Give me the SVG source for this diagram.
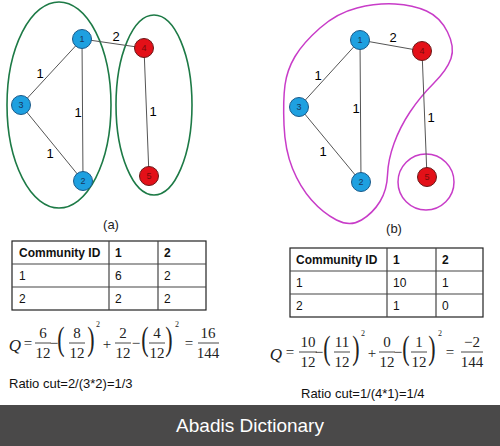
<svg xmlns="http://www.w3.org/2000/svg" width="500" height="446" viewBox="0 0 500 446">
<style>
.edge{stroke:#555;stroke-width:1;fill:none}
.bn{fill:#1ea0e0;stroke:#1a5a8a;stroke-width:1}
.rn{fill:#e31018;stroke:#6a1818;stroke-width:1}
.nt{font-family:"Liberation Sans",Arial,sans-serif;font-size:9px;text-anchor:middle}
.bt{fill:#17375e}
.rt{fill:#7a0a0a}
.el{font-family:"Liberation Sans",Arial,sans-serif;font-size:13px;fill:#000;text-anchor:middle}
.cap{font-family:"Liberation Sans",Arial,sans-serif;font-size:13px;fill:#222;text-anchor:middle}
.green{fill:none;stroke:#1d7a46;stroke-width:1.6}
.mag{fill:none;stroke:#c83cc8;stroke-width:1.5}
.tb{fill:none;stroke:#222;stroke-width:1.2}
.tl{stroke:#444;stroke-width:1.2}
.tt{font-family:"Liberation Sans",Arial,sans-serif;font-size:12px;fill:#111}
.tth{font-weight:bold}
.f{font-family:"Liberation Serif","Times New Roman",serif;font-size:15px;fill:#222;text-anchor:middle}
.fq{font-style:italic;font-size:17px}
.fe{font-size:8px}
.fp{font-size:22px}
.bar{stroke:#333;stroke-width:0.9}
.rc{font-family:"Liberation Sans",Arial,sans-serif;font-size:13px;fill:#111}
</style>

<!-- Graph (a) -->
<g id="groups-a">
  <ellipse class="green" cx="59" cy="105" rx="52" ry="103"/>
  <ellipse class="green" cx="154" cy="105" rx="38" ry="90"/>
</g>
<g id="edges-a">
  <line class="edge" x1="82" y1="39" x2="21" y2="105"/>
  <line class="edge" x1="82" y1="39" x2="83" y2="181"/>
  <line class="edge" x1="21" y1="105" x2="83" y2="181"/>
  <line class="edge" x1="82" y1="39" x2="144" y2="48"/>
  <line class="edge" x1="144" y1="48" x2="149" y2="176"/>
  <text class="el" x="116" y="41">2</text>
  <text class="el" x="40" y="78">1</text>
  <text class="el" x="78" y="117">1</text>
  <text class="el" x="50" y="158">1</text>
  <text class="el" x="153" y="116">1</text>
</g>
<g id="a-node1"><circle class="bn" cx="82" cy="39" r="9.5"/><text class="nt bt" x="82" y="42">1</text></g>
<g id="a-node2"><circle class="bn" cx="83" cy="181" r="9.5"/><text class="nt bt" x="83" y="184">2</text></g>
<g id="a-node3"><circle class="bn" cx="21" cy="105" r="9.5"/><text class="nt bt" x="21" y="108">3</text></g>
<g id="a-node4"><circle class="rn" cx="144" cy="48" r="9.5"/><text class="nt rt" x="144" y="51">4</text></g>
<g id="a-node5"><circle class="rn" cx="149" cy="176" r="9.5"/><text class="nt rt" x="149" y="179">5</text></g>
<text class="cap" x="111" y="229">(a)</text>

<!-- Graph (b) -->
<g id="groups-b">
  <path class="mag" d="M357,8 Q377,3 395,4 Q413,5 426.5,11 Q440,17 447.5,32 Q455,47 451,58.5 Q447,70 433.5,83.5 Q420,97 410,112 Q400,127 394,143.5 Q388,160 387.5,175 Q387,190 380,201.5 Q373,213 361.5,220 Q350,227 336.5,220 Q323,213 311.5,200 Q300,187 292.5,168.5 Q285,150 284,125 Q283,100 285,85 Q287,70 295,56.5 Q303,43 320,28 Q337,13 357,8 Z"/>
  <circle class="mag" cx="426" cy="182" r="28"/>
</g>
<g id="edges-b">
  <line class="edge" x1="360" y1="40" x2="299" y2="107"/>
  <line class="edge" x1="360" y1="40" x2="361" y2="182"/>
  <line class="edge" x1="299" y1="107" x2="361" y2="182"/>
  <line class="edge" x1="360" y1="40" x2="422" y2="51"/>
  <line class="edge" x1="422" y1="51" x2="427" y2="177"/>
  <text class="el" x="393" y="42">2</text>
  <text class="el" x="318" y="80">1</text>
  <text class="el" x="356" y="113">1</text>
  <text class="el" x="323" y="156">1</text>
  <text class="el" x="431" y="122">1</text>
</g>
<g id="b-node1"><circle class="bn" cx="360" cy="40" r="9.5"/><text class="nt bt" x="360" y="43">1</text></g>
<g id="b-node2"><circle class="bn" cx="361" cy="182" r="9.5"/><text class="nt bt" x="361" y="185">2</text></g>
<g id="b-node3"><circle class="bn" cx="299" cy="107" r="9.5"/><text class="nt bt" x="299" y="110">3</text></g>
<g id="b-node4"><circle class="rn" cx="422" cy="51" r="9.5"/><text class="nt rt" x="422" y="54">4</text></g>
<g id="b-node5"><circle class="rn" cx="427" cy="177" r="9.5"/><text class="nt rt" x="427" y="180">5</text></g>
<text class="cap" x="394" y="233">(b)</text>

<!-- Table (a) -->
<g id="table-a">
  <rect class="tb" x="12" y="241" width="194" height="69"/>
  <line class="tl" x1="12" y1="264" x2="206" y2="264"/>
  <line class="tl" x1="12" y1="287" x2="206" y2="287"/>
  <line class="tl" x1="109" y1="241" x2="109" y2="310"/>
  <line class="tl" x1="158" y1="241" x2="158" y2="310"/>
  <text class="tt tth" x="19" y="257">Community ID</text>
  <text class="tt tth" x="115" y="257">1</text>
  <text class="tt tth" x="164" y="257">2</text>
  <text class="tt" x="19" y="280">1</text>
  <text class="tt" x="115" y="280">6</text>
  <text class="tt" x="164" y="280">2</text>
  <text class="tt" x="19" y="303">2</text>
  <text class="tt" x="115" y="303">2</text>
  <text class="tt" x="164" y="303">2</text>
</g>

<!-- Formula (a) -->
<g id="formula-a">
  <text class="f fq" x="15" y="351">Q</text>
  <text class="f" x="28" y="348">=</text>
  <text class="f" x="43" y="338">6</text>
  <line class="bar" x1="35" y1="343" x2="51" y2="343"/>
  <text class="f" x="43" y="358">12</text>
  <text class="f" x="54" y="348">−</text>
  <text class="f fp" transform="translate(61,350) scale(1,1.5)">(</text>
  <text class="f" x="77" y="338">8</text>
  <line class="bar" x1="69" y1="343" x2="85" y2="343"/>
  <text class="f" x="77" y="358">12</text>
  <text class="f fp" transform="translate(91,350) scale(1,1.5)">)</text>
  <text class="f fe" x="98" y="327">2</text>
  <text class="f" x="107" y="349">+</text>
  <text class="f" x="123" y="338">2</text>
  <line class="bar" x1="115" y1="343" x2="131" y2="343"/>
  <text class="f" x="123" y="358">12</text>
  <text class="f" x="136" y="348">−</text>
  <text class="f fp" transform="translate(145,350) scale(1,1.5)">(</text>
  <text class="f" x="157" y="338">4</text>
  <line class="bar" x1="149" y1="343" x2="165" y2="343"/>
  <text class="f" x="157" y="358">12</text>
  <text class="f fp" transform="translate(169,350) scale(1,1.5)">)</text>
  <text class="f fe" x="177" y="327">2</text>
  <text class="f" x="189" y="348">=</text>
  <text class="f" x="208" y="338">16</text>
  <line class="bar" x1="198" y1="343" x2="219" y2="343"/>
  <text class="f" x="208" y="358">144</text>
</g>
<text class="rc" x="9" y="388">Ratio cut=2/(3*2)=1/3</text>

<!-- Table (b) -->
<g id="table-b">
  <rect class="tb" x="290" y="248" width="193" height="69"/>
  <line class="tl" x1="290" y1="271" x2="483" y2="271"/>
  <line class="tl" x1="290" y1="294" x2="483" y2="294"/>
  <line class="tl" x1="387" y1="248" x2="387" y2="317"/>
  <line class="tl" x1="436" y1="248" x2="436" y2="317"/>
  <text class="tt tth" x="296" y="264">Community ID</text>
  <text class="tt tth" x="393" y="264">1</text>
  <text class="tt tth" x="442" y="264">2</text>
  <text class="tt" x="296" y="287">1</text>
  <text class="tt" x="393" y="287">10</text>
  <text class="tt" x="442" y="287">1</text>
  <text class="tt" x="296" y="310">2</text>
  <text class="tt" x="393" y="310">1</text>
  <text class="tt" x="442" y="310">0</text>
</g>

<!-- Formula (b) -->
<g id="formula-b">
  <text class="f fq" x="276" y="360">Q</text>
  <text class="f" x="290" y="357">=</text>
  <text class="f" x="308" y="347">10</text>
  <line class="bar" x1="299" y1="352" x2="317" y2="352"/>
  <text class="f" x="308" y="367">12</text>
  <text class="f" x="319" y="357">−</text>
  <text class="f fp" transform="translate(327,359) scale(1,1.5)">(</text>
  <text class="f" x="342" y="347">11</text>
  <line class="bar" x1="334" y1="352" x2="350" y2="352"/>
  <text class="f" x="342" y="367">12</text>
  <text class="f fp" transform="translate(356,359) scale(1,1.5)">)</text>
  <text class="f fe" x="363" y="336">2</text>
  <text class="f" x="372" y="358">+</text>
  <text class="f" x="387" y="347">0</text>
  <line class="bar" x1="379" y1="352" x2="395" y2="352"/>
  <text class="f" x="387" y="367">12</text>
  <text class="f" x="398" y="357">−</text>
  <text class="f fp" transform="translate(406,359) scale(1,1.5)">(</text>
  <text class="f" x="419" y="347">1</text>
  <line class="bar" x1="411" y1="352" x2="427" y2="352"/>
  <text class="f" x="419" y="367">12</text>
  <text class="f fp" transform="translate(432,359) scale(1,1.5)">)</text>
  <text class="f fe" x="440" y="336">2</text>
  <text class="f" x="450" y="357">=</text>
  <text class="f" x="472" y="347">−2</text>
  <line class="bar" x1="461" y1="352" x2="483" y2="352"/>
  <text class="f" x="472" y="367">144</text>
</g>
<text class="rc" x="301" y="398">Ratio cut=1/(4*1)=1/4</text>

<!-- Footer -->
<rect x="0" y="405" width="500" height="41" fill="#4a4949"/>
<text x="250" y="432" font-family="'Liberation Sans',Arial,sans-serif" font-size="19" fill="#ffffff" text-anchor="middle">Abadis Dictionary</text>
</svg>
